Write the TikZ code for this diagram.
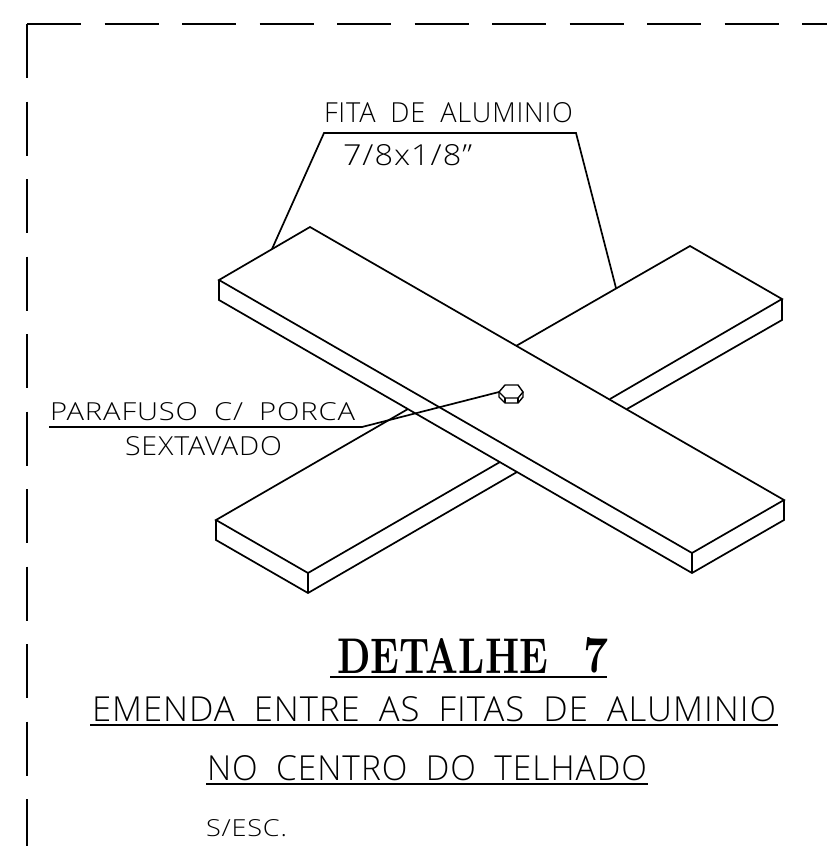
\documentclass[tikz,border=0pt]{standalone}
\usepackage{fontspec}
\usepackage{graphicx}
\setmainfont{Open Sans Light}[LetterSpace=3]
\newfontfamily\detfont{Latin Modern Roman}
\newcommand{\fitbox}[3]{\resizebox{#1pt}{#2pt}{#3}}
\newcommand{\wg}{\hspace{0.55em}}
\tikzset{
  x=1pt,y=-1pt,
  ink/.style={draw=black,line width=1.7pt,line join=miter},
  thin ink/.style={draw=black,line width=1.4pt,line join=miter},
  dashb/.style={draw=black,line width=1.5pt,dash pattern=on 54pt off 23.5pt},
  lbl/.style={inner sep=0pt,outer sep=0pt,anchor=south west},
}
\begin{document}
\begin{tikzpicture}
\useasboundingbox (0,0) rectangle (827,846);
% border
\coordinate (c0) at (27,24);
\coordinate (c1) at (827,24);
\coordinate (c2) at (27,846);
\draw[dashb] (c0) -- (c1);
\draw[dashb] (c0) -- (c2);
% strip A
\coordinate (a1) at (310,227);
\coordinate (a2) at (784,500);
\coordinate (a3) at (692,553);
\coordinate (a4) at (219,280);
\coordinate (a5) at (219,300);
\coordinate (a6) at (692,573);
\coordinate (a7) at (784,520);
\draw[ink] (a1) -- (a2) -- (a3) -- (a4) -- cycle;
\draw[ink] (a4) -- (a5) -- (a6) -- (a7) -- (a2);
\draw[ink] (a3) -- (a6);
% strip B far part
\coordinate (b1) at (690,246);
\coordinate (b2) at (782,299);
\coordinate (b3) at (782,320);
\coordinate (b4) at (516,346);
\coordinate (b5) at (610,399);
\coordinate (b6) at (627,409);
\draw[ink] (b4) -- (b1) -- (b2) -- (b5);
\draw[ink] (b2) -- (b3) -- (b6);
% strip B near part
\coordinate (d1) at (408,409);
\coordinate (d2) at (216,520);
\coordinate (d3) at (308,573);
\coordinate (d4) at (500,462);
\coordinate (d5) at (308,593);
\coordinate (d6) at (216,540);
\coordinate (d7) at (517,472);
\draw[ink] (d1) -- (d2) -- (d3) -- (d4);
\draw[ink] (d2) -- (d6) -- (d5) -- (d7);
\draw[ink] (d3) -- (d5);
% bolt
\draw[thin ink] (499,392) -- (505,385) -- (518,385) -- (523,392) -- (518,398) -- (505,398) -- cycle;
\draw[thin ink] (499,392) -- (499,397) -- (505,403) -- (518,403) -- (523,397) -- (523,392);
\draw[thin ink] (505,398) -- (505,403);
\draw[thin ink] (518,398) -- (518,403);
% leaders
\coordinate (l1) at (272,249);
\coordinate (l2) at (324,133);
\coordinate (l3) at (576,133);
\coordinate (l4) at (616,288);
\draw[ink] (l1) -- (l2) -- (l3) -- (l4);
\coordinate (p1) at (49,427);
\coordinate (p2) at (362,427);
\coordinate (p3) at (499,392);
\draw[ink] (p1) -- (p2) -- (p3);
% title underlines
\coordinate (u1) at (330,677);
\coordinate (u2) at (607,677);
\coordinate (u3) at (90,725);
\coordinate (u4) at (778,725);
\coordinate (u5) at (206,784);
\coordinate (u6) at (648,784);
\draw[ink] (u1) -- (u2);
\draw[ink] (u3) -- (u4);
\draw[ink] (u5) -- (u6);
% texts
\node[lbl] (t1) at (324,123) {\fitbox{249}{20}{FITA\wg DE\wg ALUMINIO}};
\node[lbl] (t2) at (343,166) {\fitbox{129}{21}{7/8x1/8”}};
\node[lbl] (t3) at (50,421) {\fitbox{305}{18}{PARAFUSO\wg C/\wg PORCA}};
\node[lbl] (t4) at (125,456) {\fitbox{157}{19}{SEXTAVADO}};
\node[lbl] (t5) at (337,673) {\fitbox{211}{35}{\detfont\bfseries DETALHE}};
\node[lbl] (t6) at (583,673) {\fitbox{25}{35}{\detfont\bfseries 7}};
\node[lbl] (t7) at (92,722) {\fitbox{684}{25}{EMENDA\wg ENTRE\wg AS\wg FITAS\wg DE\wg ALUMINIO}};
\node[lbl] (t8) at (207,781) {\fitbox{440}{25}{NO\wg CENTRO\wg DO\wg TELHADO}};
\node[lbl] (t9) at (206,837) {\fitbox{81}{17}{S/ESC.}};
\end{tikzpicture}
\end{document}
